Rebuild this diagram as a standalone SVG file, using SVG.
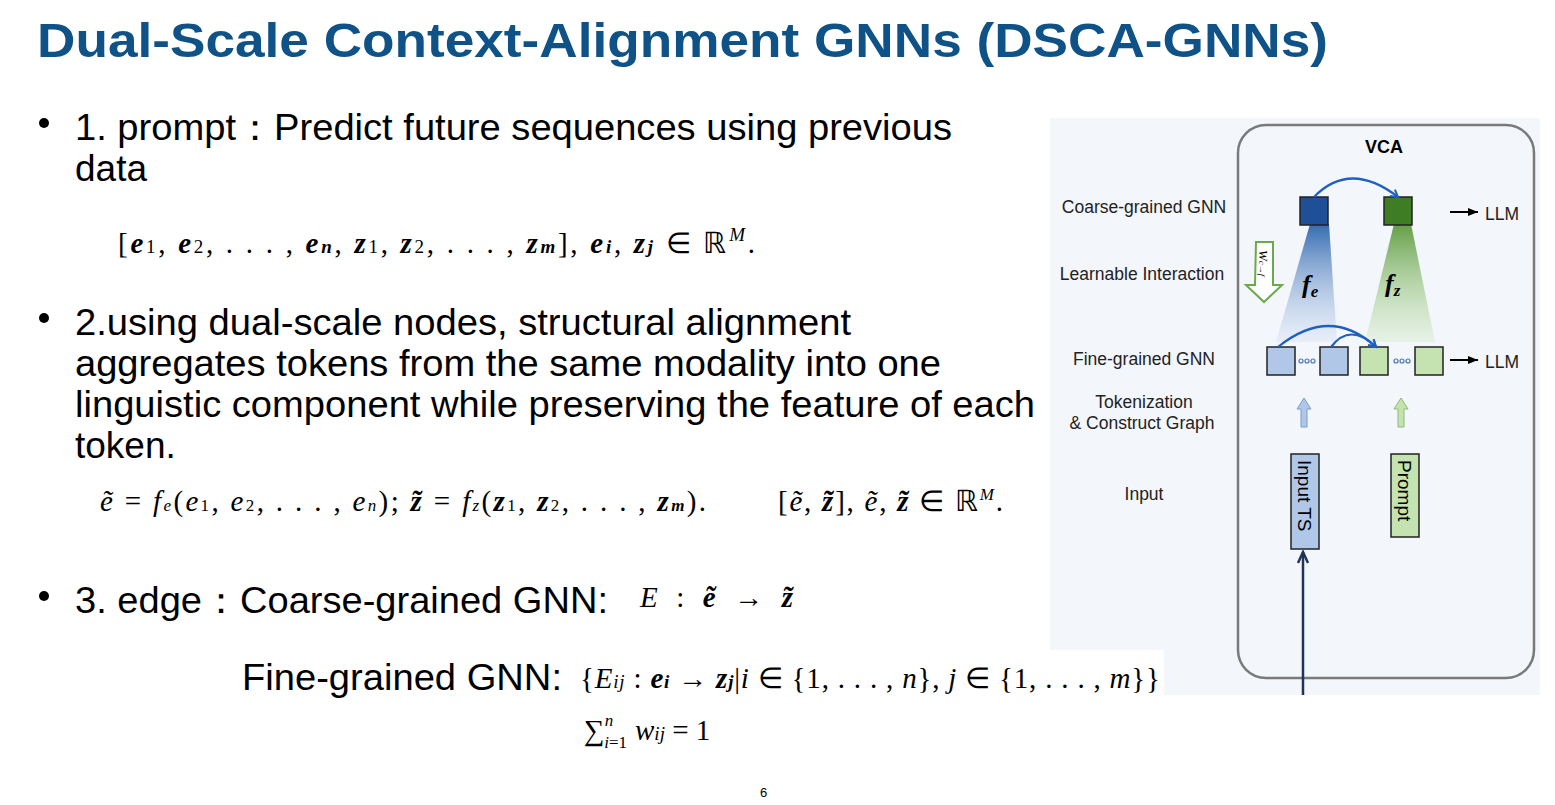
<svg xmlns="http://www.w3.org/2000/svg" width="1555" height="805" viewBox="0 0 1555 805">
<defs>
<style>
.t{font-family:"Liberation Sans",Arial,sans-serif;fill:#000}
.b{font-size:37px}
.m{font-family:"Liberation Serif","Times New Roman",serif;font-size:29px;fill:#000}
.lab{font-family:"Liberation Sans",Arial,sans-serif;font-size:17.5px;fill:#222}
.bx{stroke:#222;stroke-width:1.5}
</style>
<linearGradient id="gb" x1="0" y1="0" x2="0" y2="1"><stop offset="0" stop-color="#2a63ad" stop-opacity="0.95"/><stop offset="1" stop-color="#b8cdea" stop-opacity="0.2"/></linearGradient>
<linearGradient id="gg" x1="0" y1="0" x2="0" y2="1"><stop offset="0" stop-color="#5b9a3c" stop-opacity="0.95"/><stop offset="1" stop-color="#c8e6b4" stop-opacity="0.3"/></linearGradient>
<marker id="ab" markerWidth="10" markerHeight="10" refX="8" refY="5" orient="auto" markerUnits="userSpaceOnUse"><path d="M1,1 L8,5 L1,9" fill="none" stroke="#1f5fbf" stroke-width="2"/></marker>
<marker id="ak" markerWidth="12" markerHeight="10" refX="10" refY="5" orient="auto" markerUnits="userSpaceOnUse"><path d="M0,1 L10,5 L0,9 Z" fill="#000"/></marker>
<marker id="an" markerWidth="14" markerHeight="12" refX="12" refY="6" orient="auto" markerUnits="userSpaceOnUse"><path d="M1,1 L12,6 L1,11" fill="none" stroke="#1d3557" stroke-width="2.5"/></marker>
</defs>
<rect width="1555" height="805" fill="#fff"/>
<text x="37" y="57" font-family="Liberation Sans,Arial,sans-serif" font-weight="bold" font-size="49" fill="#0f5287" textLength="1291" lengthAdjust="spacingAndGlyphs">Dual-Scale Context-Alignment GNNs (DSCA-GNNs)</text>

<g id="panel">
<rect x="1050" y="118" width="490" height="577" fill="#f3f6fb"/>
<rect x="1238" y="125" width="296" height="553" rx="28" fill="none" stroke="#7a7a7a" stroke-width="2.5"/>
<text x="1384" y="153" text-anchor="middle" font-family="Liberation Sans,Arial,sans-serif" font-weight="bold" font-size="18">VCA</text>
<text x="1144" y="213" text-anchor="middle" class="lab">Coarse-grained GNN</text>
<text x="1142" y="280" text-anchor="middle" class="lab">Learnable Interaction</text>
<text x="1144" y="365" text-anchor="middle" class="lab">Fine-grained GNN</text>
<text x="1144" y="408" text-anchor="middle" class="lab">Tokenization</text>
<text x="1142" y="429" text-anchor="middle" class="lab">&amp; Construct Graph</text>
<text x="1144" y="500" text-anchor="middle" class="lab">Input</text>
<polygon points="1310,224 1329,224 1337,342 1276,342" fill="url(#gb)"/>
<polygon points="1394,224 1411,224 1435,342 1365,342" fill="url(#gg)"/>
<text x="1302" y="293" font-family="Liberation Serif,serif" font-weight="bold" font-style="italic" font-size="26">f<tspan font-size="17" dy="4">e</tspan></text>
<text x="1385" y="292" font-family="Liberation Serif,serif" font-weight="bold" font-style="italic" font-size="26">f<tspan font-size="17" dy="4">z</tspan></text>
<path d="M1256,242 L1273,242 L1273,285 L1282,285 L1264,302 L1246,285 L1255,285 Z" fill="#fff" stroke="#6aaa4a" stroke-width="2"/>
<text x="1259" y="250" transform="rotate(90 1259 250)" font-family="Liberation Serif,serif" font-style="italic" font-size="13">W<tspan font-size="9">c→f</tspan></text>
</g>
<g id="coarse-e"><rect class="bx" x="1300" y="197" width="28" height="28" fill="#1f4f97"/></g>
<g id="coarse-z"><rect class="bx" x="1384" y="197" width="28" height="28" fill="#3e7d24"/></g>
<g id="fine-e1"><rect class="bx" x="1267" y="347" width="28" height="28" fill="#b1c7e8"/></g>
<g id="fine-en"><rect class="bx" x="1320" y="347" width="28" height="28" fill="#b1c7e8"/></g>
<g id="fine-z1"><rect class="bx" x="1360" y="347" width="28" height="28" fill="#c5e3b0"/></g>
<g id="fine-zm"><rect class="bx" x="1415" y="347" width="28" height="28" fill="#c5e3b0"/></g>
<g id="dots" fill="none" stroke="#4a78b8" stroke-width="1.2">
<circle cx="1301" cy="361" r="2"/><circle cx="1307" cy="361" r="2"/><circle cx="1313" cy="361" r="2"/>
<circle cx="1396" cy="361" r="2"/><circle cx="1402" cy="361" r="2"/><circle cx="1408" cy="361" r="2"/>
</g>
<g id="input-ts"><rect class="bx" x="1291" y="454" width="28" height="95" fill="#b1c7e8"/>
<text x="1298" y="460" transform="rotate(90 1298 460)" font-family="Liberation Sans,Arial,sans-serif" font-size="19">Input TS</text></g>
<g id="prompt"><rect class="bx" x="1391" y="454" width="28" height="83" fill="#c5e3b0"/>
<text x="1398" y="460" transform="rotate(90 1398 460)" font-family="Liberation Sans,Arial,sans-serif" font-size="19">Prompt</text></g>
<g id="llm"><text x="1485" y="220" class="lab" font-size="20">LLM</text><text x="1485" y="368" class="lab" font-size="20">LLM</text></g>
<g id="connectors">
<path d="M1314,197 Q1350,160 1398,197" fill="none" stroke="#1f5fbf" stroke-width="2.2" marker-end="url(#ab)"/>
<path d="M1278,347 Q1330,305 1376,347" fill="none" stroke="#1f5fbf" stroke-width="2.2" marker-end="url(#ab)"/>
<path d="M1331,347 Q1350,322 1376,347" fill="none" stroke="#1f5fbf" stroke-width="2.2" marker-end="url(#ab)"/>
<line x1="1450" y1="212" x2="1478" y2="212" stroke="#000" stroke-width="2" marker-end="url(#ak)"/>
<line x1="1450" y1="360" x2="1478" y2="360" stroke="#000" stroke-width="2" marker-end="url(#ak)"/>
<path d="M1301,427 L1301,409 L1297,409 L1304,398 L1311,409 L1307,409 L1307,427 Z" fill="#b1c7e8" stroke="#7b9ccc"/>
<path d="M1398,427 L1398,409 L1394,409 L1401,398 L1408,409 L1404,409 L1404,427 Z" fill="#c5e3b0" stroke="#8dbb72"/>
<line x1="1303" y1="695" x2="1303" y2="552" stroke="#1d3557" stroke-width="2.5" marker-end="url(#an)"/>
</g>

<g id="text">
<circle cx="44" cy="123" r="5"/>
<text x="75" y="140" class="t b" textLength="877" lengthAdjust="spacingAndGlyphs">1. prompt：Predict future sequences using previous</text>
<text x="75" y="181" class="t b">data</text>
<text x="118" y="253" class="m" textLength="637" lengthAdjust="spacing"><tspan>[</tspan><tspan font-weight="bold" font-style="italic">e</tspan><tspan font-size="19">1</tspan>, <tspan font-weight="bold" font-style="italic">e</tspan><tspan font-size="19">2</tspan>, . . . , <tspan font-weight="bold" font-style="italic">e<tspan font-size="19">n</tspan></tspan>, <tspan font-weight="bold" font-style="italic">z</tspan><tspan font-size="19">1</tspan>, <tspan font-weight="bold" font-style="italic">z</tspan><tspan font-size="19">2</tspan>, . . . , <tspan font-weight="bold" font-style="italic">z<tspan font-size="19">m</tspan></tspan>],      <tspan font-weight="bold" font-style="italic">e<tspan font-size="19">i</tspan></tspan>, <tspan font-weight="bold" font-style="italic">z<tspan font-size="19">j</tspan></tspan> ∈ ℝ<tspan font-size="19" font-style="italic" dy="-12">M</tspan><tspan dy="12">.</tspan></text>
<circle cx="44" cy="318" r="5"/>
<text x="75" y="335" class="t b" textLength="776" lengthAdjust="spacingAndGlyphs">2.using dual-scale nodes, structural alignment</text>
<text x="75" y="376" class="t b" textLength="866" lengthAdjust="spacingAndGlyphs">aggregates tokens from the same modality into one</text>
<text x="75" y="417" class="t b" textLength="960" lengthAdjust="spacingAndGlyphs">linguistic component while preserving the feature of each</text>
<text x="75" y="458" class="t b">token.</text>
<text x="100" y="511" class="m" font-size="26" textLength="606" lengthAdjust="spacing"><tspan font-style="italic">ẽ</tspan> = <tspan font-style="italic">f<tspan font-size="17">e</tspan></tspan>(<tspan font-style="italic">e</tspan><tspan font-size="17">1</tspan>, <tspan font-style="italic">e</tspan><tspan font-size="17">2</tspan>, . . . , <tspan font-style="italic">e<tspan font-size="17">n</tspan></tspan>);    <tspan font-weight="bold" font-style="italic">z̃</tspan> = <tspan font-style="italic">f<tspan font-size="17">z</tspan></tspan>(<tspan font-weight="bold" font-style="italic">z</tspan><tspan font-size="17">1</tspan>, <tspan font-weight="bold" font-style="italic">z</tspan><tspan font-size="17">2</tspan>, . . . , <tspan font-weight="bold" font-style="italic">z<tspan font-size="17">m</tspan></tspan>).</text>
<text x="778" y="511" class="m" font-size="26" textLength="225" lengthAdjust="spacing">[<tspan font-style="italic">ẽ</tspan>, <tspan font-weight="bold" font-style="italic">z̃</tspan>],    <tspan font-style="italic">ẽ</tspan>, <tspan font-weight="bold" font-style="italic">z̃</tspan> ∈ ℝ<tspan font-size="17" font-style="italic" dy="-11">M</tspan><tspan dy="11">.</tspan></text>
<circle cx="44" cy="596" r="5"/>
<text x="75" y="613" class="t b" textLength="533" lengthAdjust="spacingAndGlyphs">3. edge：Coarse-grained GNN:</text>
<text x="640" y="607" class="m" font-size="32" textLength="153" lengthAdjust="spacing"><tspan font-style="italic">E</tspan> : <tspan font-weight="bold" font-style="italic">ẽ</tspan> → <tspan font-weight="bold" font-style="italic">z̃</tspan></text>
<rect x="572" y="650" width="592" height="46" fill="#fff"/>
<text x="242" y="690" class="t b" textLength="320" lengthAdjust="spacingAndGlyphs">Fine-grained GNN:</text>
<text x="580" y="688" class="m" textLength="580" lengthAdjust="spacing">{<tspan font-style="italic">E<tspan font-size="19">ij</tspan></tspan> : <tspan font-weight="bold" font-style="italic">e<tspan font-size="19">i</tspan></tspan> → <tspan font-weight="bold" font-style="italic">z<tspan font-size="19">j</tspan></tspan>|<tspan font-style="italic">i</tspan> ∈ {1, . . . , <tspan font-style="italic">n</tspan>}, <tspan font-style="italic">j</tspan> ∈ {1, . . . , <tspan font-style="italic">m</tspan>}}</text>
<text x="584" y="740" class="m" font-size="30">∑<tspan font-size="17" dy="-14" font-style="italic">n</tspan><tspan font-size="17" dx="-9" dy="22"><tspan font-style="italic">i</tspan>=1</tspan><tspan dy="-8" dx="8" font-style="italic">w<tspan font-size="19">ij</tspan></tspan> = 1</text>
<text x="760" y="797" font-family="Liberation Sans,Arial,sans-serif" font-size="13">6</text>
</g>
</svg>
